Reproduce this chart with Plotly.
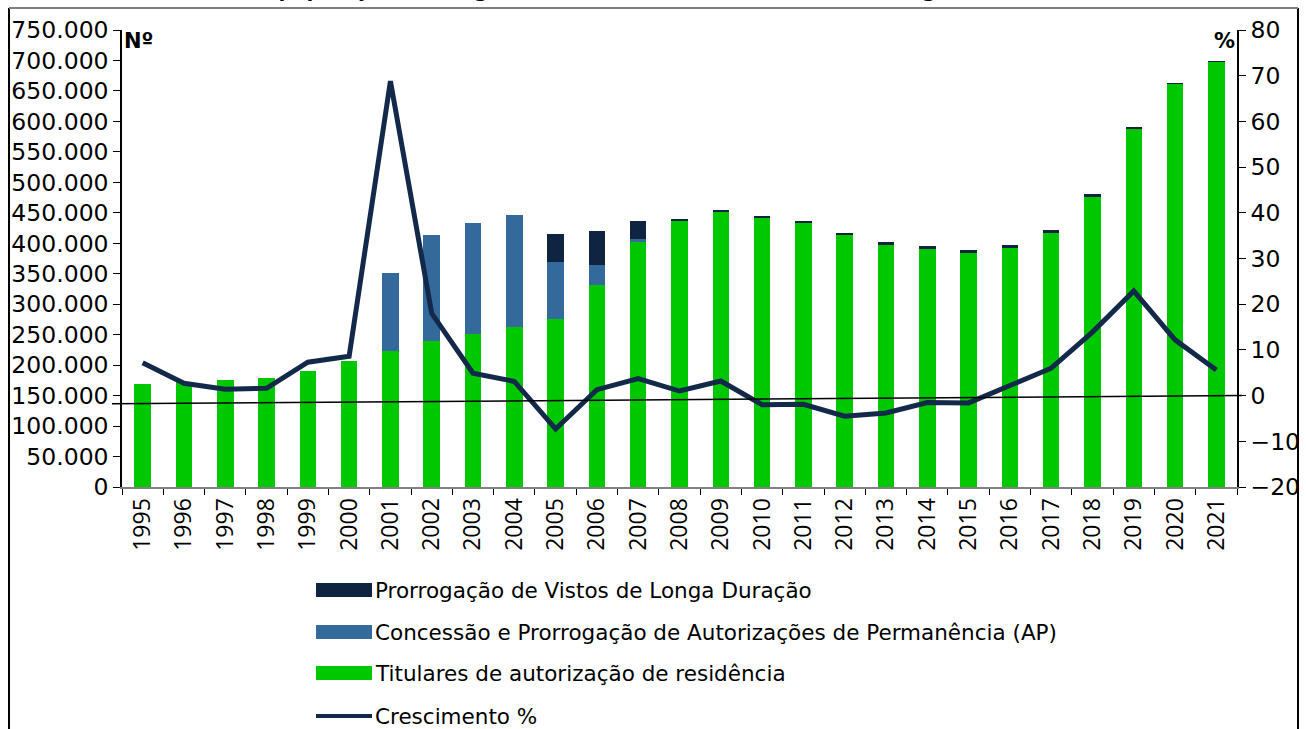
import plotly.graph_objects as go

# ---------------- data ----------------
years = ["1995", "1996", "1997", "1998", "1999", "2000", "2001", "2002", "2003",
         "2004", "2005", "2006", "2007", "2008", "2009", "2010", "2011", "2012",
         "2013", "2014", "2015", "2016", "2017", "2018", "2019", "2020", "2021"]

titulares = [168316, 172912, 175263, 178137, 191143, 207587, 223976, 238929, 250697,
             263322, 275906, 332137, 401612, 436020, 451742, 443055, 434708, 414610,
             398268, 390113, 383759, 392969, 416682, 477472, 588976, 661607, 698536]

autorizacoes_ap = [0, 0, 0, 0, 0, 0, 126527, 174558, 182953,
                   183833, 93391, 32661, 5733, 0, 0, 0, 0, 0,
                   0, 0, 0, 0, 0, 0, 0, 0, 0]

vistos_vld = [0, 0, 0, 0, 0, 0, 0, 0, 0,
              0, 45362, 55391, 28391, 4257, 2449, 2207, 2114, 2432,
              3052, 5082, 4972, 4762, 5029, 2828, 1372, 488, 351]

crescimento = [7.2, 2.7, 1.4, 1.6, 7.3, 8.6, 68.8, 18.0, 4.9,
               3.1, -7.3, 1.3, 3.7, 1.0, 3.2, -2.0, -1.9, -4.5,
               -3.8, -1.5, -1.6, 2.3, 6.0, 13.9, 22.9, 12.2, 5.6]

left_ticks = [0, 50000, 100000, 150000, 200000, 250000, 300000, 350000, 400000,
              450000, 500000, 550000, 600000, 650000, 700000, 750000]
right_ticks = [-20, -10, 0, 10, 20, 30, 40, 50, 60, 70, 80]

legend_names = ["Prorrogação de Vistos de Longa Duração",
                "Concessão e Prorrogação de Autorizações de Permanência (AP)",
                "Titulares de autorização de residência",
                "Crescimento %"]

title_text = ("Gráfico 1 – Total da população estrangeira com título de residência "
              "em Portugal, entre 1995 e 2021")

# ---------------- style ----------------
GREEN = "#00C800"
BLUE = "#34699C"
DARK = "#0E2440"
LINE = "#13294A"
FONT = "DejaVu Sans"

W, H = 1306, 729
L, R, T, B = 122, 1237, 30, 487


def px(x):
    return (x - L) / (R - L)


def py(y):
    return (B - y) / (B - T)


fig = go.Figure()
fig.add_trace(go.Bar(x=years, y=titulares, name=legend_names[2],
                     marker=dict(color=GREEN, line=dict(width=0)), showlegend=False))
fig.add_trace(go.Bar(x=years, y=autorizacoes_ap, name=legend_names[1],
                     marker=dict(color=BLUE, line=dict(width=0)), showlegend=False))
fig.add_trace(go.Bar(x=years, y=vistos_vld, name=legend_names[0],
                     marker=dict(color=DARK, line=dict(width=0)), showlegend=False))
fig.add_trace(go.Scatter(x=years, y=crescimento, name=legend_names[3], yaxis="y2",
                         mode="lines", line=dict(color=LINE, width=5),
                         showlegend=False))

shapes = []
# sloping black reference line
shapes.append(dict(type="line", xref="paper", yref="y2",
                   x0=px(112), x1=px(1242), y0=-1.8, y1=0.0,
                   line=dict(color="black", width=1.5), layer="above"))
# outer frame
shapes.append(dict(type="line", xref="paper", yref="paper",
                   x0=px(9), x1=px(9), y0=py(760), y1=py(8),
                   line=dict(color="black", width=2)))
shapes.append(dict(type="line", xref="paper", yref="paper",
                   x0=px(1298), x1=px(1298), y0=py(760), y1=py(8),
                   line=dict(color="black", width=2)))
shapes.append(dict(type="line", xref="paper", yref="paper",
                   x0=px(9), x1=px(1298), y0=py(8), y1=py(8),
                   line=dict(color="#7f7f7f", width=2)))

annotations = []
# manual legend
leg_colors = [DARK, BLUE, GREEN]
leg_y = [590, 632, 673, 716]
for i in range(3):
    yc = leg_y[i]
    shapes.append(dict(type="rect", xref="paper", yref="paper",
                       x0=px(316), x1=px(372), y0=py(yc + 7), y1=py(yc - 7),
                       fillcolor=leg_colors[i], line=dict(width=0)))
shapes.append(dict(type="line", xref="paper", yref="paper",
                   x0=px(316), x1=px(372), y0=py(leg_y[3]), y1=py(leg_y[3]),
                   line=dict(color=LINE, width=4)))
for i in range(4):
    annotations.append(dict(text=legend_names[i], xref="paper", yref="paper",
                            x=px(373), y=py(leg_y[i]), xanchor="left", yanchor="middle",
                            showarrow=False, font=dict(family=FONT, size=21.5, color="black")))

annotations.append(dict(text="<b>Nº</b>", xref="paper", yref="paper",
                        x=px(122), y=py(41), xanchor="left", yanchor="middle",
                        showarrow=False, font=dict(family=FONT, size=21, color="black")))
annotations.append(dict(text="<b>%</b>", xref="paper", yref="paper",
                        x=px(1237), y=py(41), xanchor="right", yanchor="middle",
                        showarrow=False, font=dict(family=FONT, size=21, color="black")))
annotations.append(dict(text="<b>" + title_text + "</b>", xref="paper", yref="paper",
                        x=px(55), y=py(4.5), xanchor="left", yanchor="bottom",
                        showarrow=False, font=dict(family=FONT, size=20, color="black")))

fig.update_layout(
    width=W, height=H,
    margin=dict(l=L, r=W - R, t=T, b=H - B, autoexpand=False),
    paper_bgcolor="white", plot_bgcolor="white",
    barmode="stack", bargap=0.6,
    separators=",.",
    showlegend=False,
    font=dict(family=FONT, color="black"),
    xaxis=dict(type="category", categoryorder="array", categoryarray=years,
               tickangle=-90, ticks="outside", tickson="boundaries", ticklen=6,
               tickcolor="black", showline=True, linecolor="#808080", linewidth=2,
               showgrid=False, tickfont=dict(family="Open Sans", size=23, color="black"),
               automargin=False),
    yaxis=dict(range=[0, 750000], tickvals=left_ticks, tickformat=",d",
               ticks="outside", ticklen=7, tickcolor="black",
               showline=True, linecolor="black", linewidth=1.5,
               showgrid=False, zeroline=False,
               tickfont=dict(family=FONT, size=23.5, color="black"), automargin=False),
    yaxis2=dict(range=[-20, 80], tickvals=right_ticks, overlaying="y", side="right",
                ticks="outside", ticklen=7, tickcolor="black",
                showline=True, linecolor="black", linewidth=1.5,
                showgrid=False, zeroline=False,
                tickfont=dict(family=FONT, size=23.5, color="black"), automargin=False),
    shapes=shapes,
    annotations=annotations,
)

fig.write_html("out.html",
               config={"displayModeBar": False},
               post_script="document.body.style.margin='0';document.body.style.overflow='hidden';")
